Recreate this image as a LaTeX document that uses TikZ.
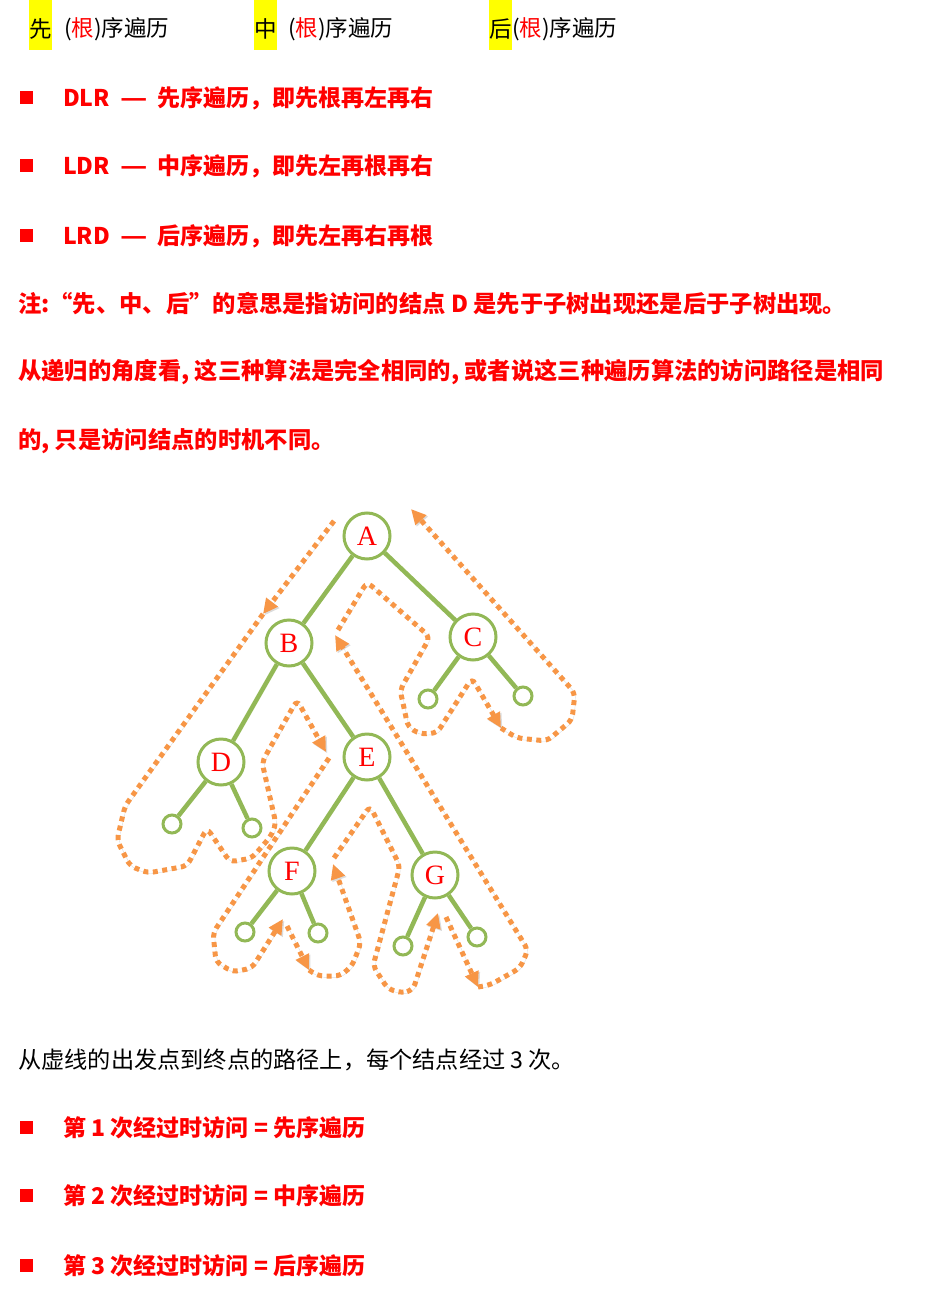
\documentclass[tikz,border=0pt]{standalone}
\usepackage{fontspec}
\usepackage{graphicx}
\setmainfont{Noto Sans CJK SC}
\newfontfamily\serifL{Liberation Serif}
\usetikzlibrary{arrows.meta}
\definecolor{tred}{RGB}{255,0,0}
\definecolor{torange}{RGB}{247,150,70}
\definecolor{tgreen}{RGB}{146,184,86}
\definecolor{hlyellow}{RGB}{255,255,0}
\newcommand{\wdash}{\hspace{10pt}\scalebox{1.3}[1]{—}\hspace{10pt}}
\begin{document}
\begin{tikzpicture}[x=1pt,y=-1pt,
  txt/.style={anchor=west, inner sep=0pt, font=\fontsize{22.5}{26}\selectfont},
  btxt/.style={anchor=west, inner sep=0pt, font=\fontsize{23.2}{26}\selectfont},
  rtxt/.style={anchor=west, inner sep=0pt, text=tred, font=\fontsize{23}{26}\selectfont\bfseries},
  ntxt/.style={anchor=west, inner sep=0pt, text=tred, font=\fontsize{23.3}{26}\selectfont\bfseries},
  bul/.style={fill=tred},
  tn/.style={circle, draw=tgreen, line width=3pt, fill=white, minimum size=46pt, inner sep=0pt, text=tred, font=\serifL\fontsize{28}{28}\selectfont},
  leaf/.style={circle, draw=tgreen, line width=3pt, fill=white, minimum size=18pt, inner sep=0pt},
  edge/.style={draw=tgreen, line width=4.5pt},
  trail/.style={draw=torange, line width=5pt, dash pattern=on 5pt off 4.5pt, rounded corners=6pt,
    preaction={draw=black!45, opacity=0.3, transform canvas={shift={(1.4pt,-1.4pt)}}}},
  tip/.style={-{Triangle[length=15pt,width=14pt]}}
]
\useasboundingbox (0,0) rectangle (926,1308);

% ---- header line
\fill[hlyellow] (29,0) rectangle (52,50);
\fill[hlyellow] (254,0) rectangle (277,50);
\fill[hlyellow] (489,0) rectangle (512,50);
\node[txt] (h1a) at (29,29) {先};
\node[txt] (h1b) at (64,29) {(\textcolor{tred}{根})序遍历};
\node[txt] (h2a) at (254,29) {中};
\node[txt] (h2b) at (288,29) {(\textcolor{tred}{根})序遍历};
\node[txt] (h3a) at (489,29) {后};
\node[txt] (h3b) at (512,29) {(\textcolor{tred}{根})序遍历};

% ---- bullets
\fill[bul] (20,91) rectangle (33,104);
\fill[bul] (20,159) rectangle (33,172);
\fill[bul] (20,229) rectangle (33,242);
\node[rtxt] (b1) at (63,98) {DLR\wdash 先序遍历，即先根再左再右};
\node[rtxt] (b2) at (63,166) {LDR\wdash 中序遍历，即先左再根再右};
\node[rtxt] (b3) at (63,236) {LRD\wdash 后序遍历，即先左再右再根};

\node[ntxt] (n1) at (18,304) {注:“先、中、后”的意思是指访问的结点 D 是先于子树出现还是后于子树出现。};
\node[ntxt] (n2) at (18,372) {从递归的角度看, 这三种算法是完全相同的, 或者说这三种遍历算法的访问路径是相同};
\node[ntxt] (n3) at (18,441) {的, 只是访问结点的时机不同。};

% ---- tree
\node[tn] (A) at (367,536) {A};
\node[tn] (B) at (289,643) {B};
\node[tn] (C) at (473,637) {C};
\node[tn] (D) at (221,762) {D};
\node[tn] (E) at (367,757) {E};
\node[tn] (F) at (292,871) {F};
\node[tn] (G) at (435,875) {G};
\node[leaf] (cl) at (428,699) {};
\node[leaf] (cr) at (523,696) {};
\node[leaf] (dl) at (172,824) {};
\node[leaf] (dr) at (252,828) {};
\node[leaf] (fl) at (245,932) {};
\node[leaf] (fr) at (318,933) {};
\node[leaf] (gl) at (403,946) {};
\node[leaf] (gr) at (477,937) {};

\draw[edge] (A) -- (B);
\draw[edge] (A) -- (C);
\draw[edge] (B) -- (D);
\draw[edge] (B) -- (E);
\draw[edge] (C) -- (cl);
\draw[edge] (C) -- (cr);
\draw[edge] (D) -- (dl);
\draw[edge] (D) -- (dr);
\draw[edge] (E) -- (F);
\draw[edge] (E) -- (G);
\draw[edge] (F) -- (fl);
\draw[edge] (F) -- (fr);
\draw[edge] (G) -- (gl);
\draw[edge] (G) -- (gr);

% ---- traversal trail
\coordinate (s0) at (334,521);
\coordinate (s1) at (263,614);
\draw[trail,tip] (s0) -- (s1);
\coordinate (s2) at (326,752);
\draw[trail,tip] (s1) -- (125,806) -- (117,840) -- (130,866) -- (148,873) -- (187,866) -- (207,828)
  -- (230,862) -- (252,858) -- (271,836) -- (276,824) -- (262,762) -- (297,700) -- (s2);
\coordinate (s3) at (283,919);
\draw[trail,tip] (329,758) -- (213,933) -- (216,962) -- (233,972) -- (252,968) -- (s3);
\coordinate (s4) at (309,970);
\draw[trail,tip] (287,926) -- (s4);
\coordinate (s5) at (333,864);
\draw[trail,tip] (s4) -- (318,976) -- (340,976) -- (352,966) -- (361,943) -- (s5);
\coordinate (s6) at (438,913);
\draw[trail,tip] (334,858) -- (370,806) -- (400,866) -- (373,966) -- (388,989) -- (402,993) -- (413,990) -- (s6);
\coordinate (s7) at (478,987);
\draw[trail,tip] (446,917) -- (s7);
\coordinate (s8) at (335,635);
\draw[trail,tip] (s7) -- (490,985) -- (520,968) -- (528,950) -- (s8);
\coordinate (s9) at (501,728);
\draw[trail,tip] (338,630) -- (367,582) -- (430,637) -- (400,690) -- (403,703) -- (408,727) -- (420,734) -- (437,733) -- (472,678) -- (s9);
\coordinate (s10) at (411,509);
\draw[trail,tip] (s9) -- (517,738) -- (547,741) -- (560,730) -- (572,720) -- (575,693) -- (s10);

% ---- bottom text
\node[btxt] (m1) at (18,1060) {从虚线的出发点到终点的路径上，每个结点经过 3 次。};
\fill[bul] (20,1121) rectangle (33,1134);
\fill[bul] (20,1189) rectangle (33,1202);
\fill[bul] (20,1259) rectangle (33,1272);
\node[rtxt] (c1) at (63,1128) {第 1 次经过时访问 = 先序遍历};
\node[rtxt] (c2) at (63,1196) {第 2 次经过时访问 = 中序遍历};
\node[rtxt] (c3) at (63,1266) {第 3 次经过时访问 = 后序遍历};
\end{tikzpicture}
\end{document}
